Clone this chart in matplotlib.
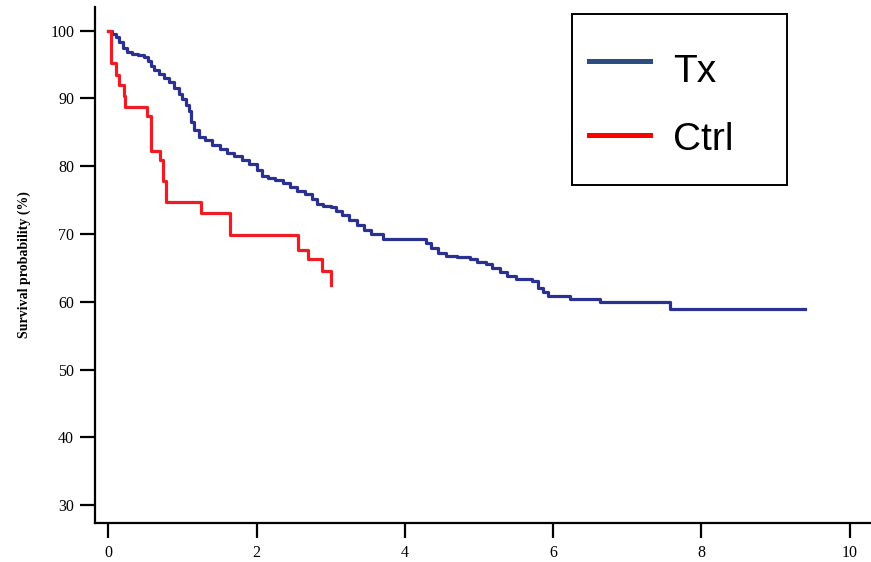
import matplotlib
import matplotlib.pyplot as plt
from matplotlib.lines import Line2D
from matplotlib.patches import Rectangle

matplotlib.use("Agg")

# Kaplan-Meier style curves (years, survival %)
tx_time = [0.00, 0.05, 0.10, 0.15, 0.20, 0.25, 0.32, 0.40, 0.48, 0.53,
           0.57, 0.62, 0.68, 0.75, 0.82, 0.88, 0.95, 1.00, 1.05, 1.09,
           1.12, 1.15, 1.22, 1.30, 1.40, 1.50, 1.60, 1.70, 1.80, 1.90,
           2.00, 2.07, 2.15, 2.25, 2.35, 2.45, 2.55, 2.65, 2.75, 2.82,
           2.90, 3.00, 3.07, 3.15, 3.25, 3.35, 3.45, 3.55, 3.70, 4.20,
           4.28, 4.36, 4.45, 4.55, 4.70, 4.88, 4.98, 5.10, 5.18, 5.28,
           5.38, 5.50, 5.72, 5.80, 5.87, 5.93, 6.23, 6.63, 7.58, 9.40]
tx_surv = [100.0, 99.5, 99.0, 98.3, 97.5, 96.8, 96.6, 96.4, 96.1, 95.6,
           94.8, 94.2, 93.6, 93.0, 92.5, 91.5, 90.7, 89.9, 89.0, 88.2,
           86.6, 85.3, 84.3, 83.8, 83.2, 82.5, 82.0, 81.5, 80.9, 80.3,
           79.4, 78.6, 78.2, 77.9, 77.5, 77.0, 76.4, 75.9, 75.1, 74.5,
           74.2, 74.0, 73.4, 72.8, 72.0, 71.4, 70.6, 70.0, 69.3, 69.3,
           68.6, 68.0, 67.2, 66.8, 66.6, 66.3, 65.9, 65.6, 65.0, 64.4,
           63.8, 63.4, 63.0, 62.1, 61.4, 60.9, 60.4, 59.9, 58.9, 58.9]

ctrl_time = [0.00, 0.03, 0.11, 0.15, 0.21, 0.23, 0.52, 0.58, 0.70, 0.74,
             0.78, 1.25, 1.64, 2.56, 2.70, 2.88, 3.00]
ctrl_surv = [100.0, 95.2, 93.5, 92.0, 90.3, 88.8, 87.4, 82.3, 80.9, 77.8,
             74.7, 73.1, 69.8, 67.7, 66.3, 64.5, 62.5]

x_ticks = [0, 2, 4, 6, 8, 10]
y_ticks = [30, 40, 50, 60, 70, 80, 90, 100]
labels = ["Tx", "Ctrl"]
legend_colors = ["#2C4D80", "#FF0000"]

tx_color = "#2B3190"
ctrl_color = "#EE1C24"

W, H = 871, 562
fig = plt.figure(figsize=(W / 100, H / 100), dpi=100)
ax = fig.add_axes([95 / W, 39 / H, 776 / W, 516 / H])

# Curves
ax.step(tx_time, tx_surv, where="post", color=tx_color, linewidth=2.3)
ax.step(ctrl_time, ctrl_surv, where="post", color=ctrl_color, linewidth=2.3)

ax.set_xlim(-0.18, 10.29)
ax.set_ylim(27.35, 103.5)
ax.set_xticks(x_ticks)
ax.set_yticks(y_ticks)

for side in ["top", "right"]:
    ax.spines[side].set_visible(False)
for side in ["left", "bottom"]:
    ax.spines[side].set_linewidth(1.6)

ax.tick_params(direction="out", length=11, width=1.6, labelsize=11.5, pad=5)
ax.tick_params(axis="y", pad=4)
for lbl in ax.get_xticklabels() + ax.get_yticklabels():
    lbl.set_fontfamily("Liberation Serif")

ax.set_ylabel("Survival probability (%)", fontfamily="Liberation Serif",
              fontweight="bold", fontsize=10, labelpad=14)


# Legend box drawn in figure pixels (top-left origin)
def fx(px):
    return px / W


def fy(py):
    return 1 - py / H


fig.add_artist(Rectangle((fx(572), fy(185)), fx(787) - fx(572), fy(14) - fy(185),
                         transform=fig.transFigure, facecolor="white",
                         edgecolor="black", linewidth=1.4))
for label, color, line_y, base_y in zip(labels, legend_colors, [61, 135], [82, 150]):
    fig.add_artist(Line2D([fx(589), fx(650)], [fy(line_y), fy(line_y)],
                          transform=fig.transFigure, color=color, linewidth=3.6))
    fig.text(fx(673), fy(base_y), label, fontfamily="Liberation Sans",
             fontsize=28, va="baseline", ha="left")

fig.savefig("out.png", dpi=100)
plt.close(fig)
